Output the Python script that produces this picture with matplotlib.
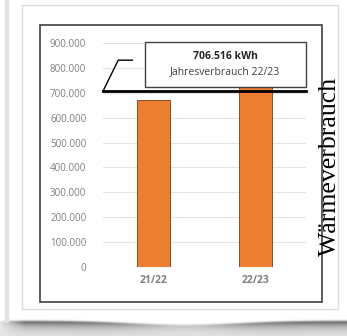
import numpy as np
import matplotlib.pyplot as plt
from matplotlib.patches import Rectangle

# data
seasons = ['21/22', '22/23']
consumption = [670000, 723000]
annual_value = 706516
yticks = [0, 100000, 200000, 300000, 400000, 500000, 600000, 700000, 800000, 900000]
ytick_labels = ['0', '100.000', '200.000', '300.000', '400.000', '500.000',
                '600.000', '700.000', '800.000', '900.000']

W, H = 347, 336
fig = plt.figure(figsize=(W / 100, H / 100), dpi=100)
fig.patch.set_facecolor('white')


def fx(px):
    return px / W


def fy(py):
    return 1 - py / H


# background decoration: page edge shadow + light outer frame
bg = fig.add_axes([0, 0, 1, 1], zorder=0)
bg.set_xlim(0, W)
bg.set_ylim(H, 0)
bg.axis('off')
xs = np.linspace(0, W, 694)
ys = np.linspace(300, H, 144)
XX, YY = np.meshgrid(xs, ys)
edge = 321 + 4 * np.exp(-((XX - 185) / 75) ** 2)
amp = 0.62 - 0.45 * np.exp(-((XX - 185) / 70) ** 2)
amp = amp * np.clip(XX / 25, 0, 1)
dist = YY - edge
step = 1 / (1 + np.exp(-dist * 2))
shade = step * (amp * np.exp(-np.clip(dist, 0, None) / 5) + 0.1)
bg.imshow(1 - shade, cmap='gray', vmin=0, vmax=1, aspect='auto',
          extent=(0, W, H, 300), zorder=0, interpolation='bilinear')
bg.plot([7, 7], [0, 321], color='#e2e2e2', lw=3, zorder=1)
bg.add_patch(Rectangle((22, 5), 316, 304, fill=False, edgecolor='#dcdcdc', lw=1))
bg.add_patch(Rectangle((40, 25), 282, 277, fill=False, edgecolor='#404040', lw=1.2))

# chart
ax = fig.add_axes([fx(103), fy(267), fx(306) - fx(103), fy(43) - fy(267)], zorder=2)
ax.patch.set_alpha(0)
x = np.arange(len(seasons))
ax.bar(x, consumption, width=0.33, color='#ED7D31', edgecolor='#7a3c12',
       linewidth=0.6, zorder=2)
ax.set_xlim(-0.5, 1.5)
ax.set_ylim(0, 900000)
ax.set_yticks(yticks)
ax.set_yticklabels(ytick_labels, fontfamily='Open Sans', fontsize=7, color='#7f7f7f')
ax.set_xticks(x)
ax.set_xticklabels(seasons, fontfamily='Open Sans', fontsize=7.5, color='#7f7f7f',
                   fontweight='bold')
ax.tick_params(axis='y', length=0, pad=12)
ax.tick_params(axis='x', length=0, pad=6)
for s in ax.spines.values():
    s.set_visible(False)
ax.yaxis.grid(True, color='#e3e3e3', lw=0.8, zorder=0)
ax.set_axisbelow(True)

# annual consumption line with callout
ax.plot([-0.5, 1.5], [annual_value, annual_value], color='black', lw=2, zorder=4,
        clip_on=False)
ax.plot([-0.5, -0.35, -0.21], [annual_value, 831000, 831000], color='black', lw=1,
        zorder=4, clip_on=False)
ax.add_patch(Rectangle((-0.09, 723000), 1.59, 181000, facecolor='white',
                       edgecolor='#404040', lw=1, zorder=5, clip_on=False))
ax.text(0.705, 845000, '706.516 kWh', ha='center', va='center', fontsize=7.5,
        fontweight='bold', fontfamily='Open Sans', color='#262626', zorder=6)
ax.text(0.705, 783000, 'Jahresverbrauch 22/23', ha='center', va='center', fontsize=7.5,
        fontfamily='Open Sans', color='#404040', zorder=6)

fig.text(fx(330), fy(166), 'Wärmeverbrauch', rotation=90, ha='center', va='center',
         fontsize=18.5, fontfamily='Liberation Serif', color='black', zorder=7)

fig.savefig('out.png', dpi=100)
